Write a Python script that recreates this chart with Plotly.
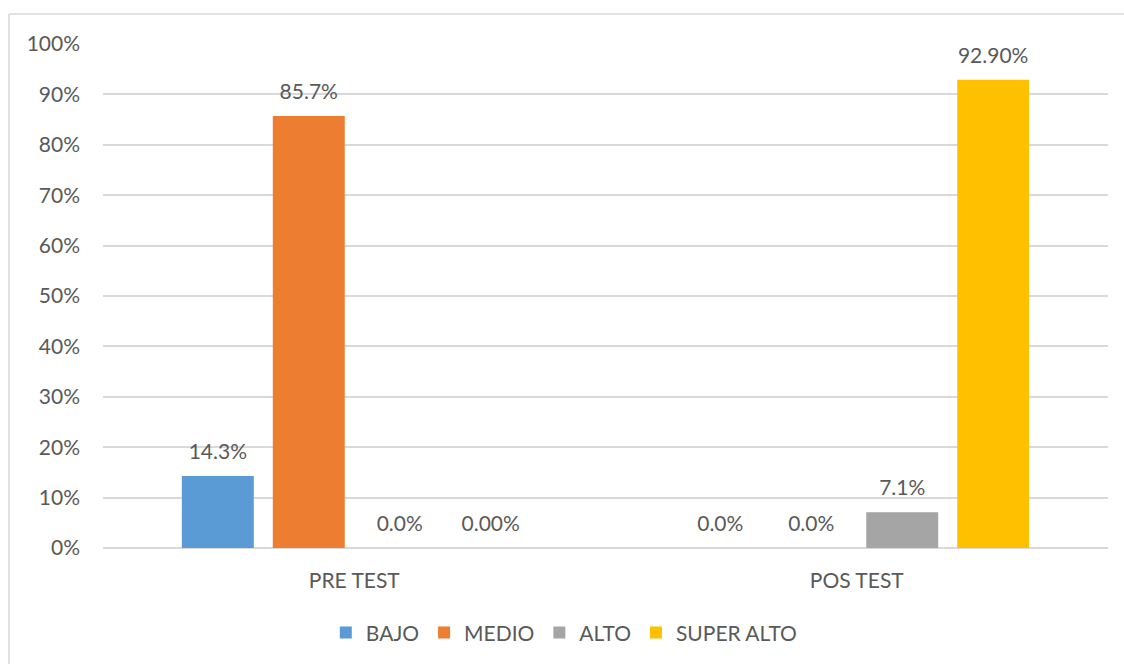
import plotly.graph_objects as go

categories = ["PRE TEST", "POS TEST"]
series_names = ["BAJO", "MEDIO", "ALTO", "SUPER ALTO"]
bajo = [14.3, 0.0]
medio = [85.7, 0.0]
alto = [0.0, 7.1]
super_alto = [0.0, 92.9]
bajo_labels = ["14.3%", "0.0%"]
medio_labels = ["85.7%", "0.0%"]
alto_labels = ["0.0%", "7.1%"]
super_alto_labels = ["0.00%", "92.90%"]
y_ticks = [0, 10, 20, 30, 40, 50, 60, 70, 80, 90, 100]
y_tick_labels = [f"{v}%" for v in y_ticks]

colors = ["#5B9BD5", "#ED7D31", "#A5A5A5", "#FFC000"]
values = [bajo, medio, alto, super_alto]
labels = [bajo_labels, medio_labels, alto_labels, super_alto_labels]

FONT = "Lato"
TXT = "#595959"
FS = 21
GAP = 0.276
BORDER = dict(color="#D9D9D9", width=1.5)

fig = go.Figure()
for i, (name, vals, col) in enumerate(zip(series_names, values, colors)):
    fig.add_trace(go.Bar(
        name=name, x=categories, y=vals, offsetgroup=str(i),
        marker=dict(color=col, line=dict(width=0)),
        hoverinfo="x+y",
    ))
for i, (name, vals, labs) in enumerate(zip(series_names, values, labels)):
    fig.add_trace(go.Scatter(
        x=categories, y=vals, offsetgroup=str(i), mode="markers+text",
        text=labs, textposition="top center",
        textfont=dict(family=FONT, size=FS, color=TXT),
        marker=dict(size=17, opacity=0),
        showlegend=False, hoverinfo="skip", cliponaxis=False,
    ))

fig.update_layout(
    width=1124, height=664,
    margin=dict(l=103, r=16, t=44, b=115),
    paper_bgcolor="white", plot_bgcolor="white",
    barmode="group", bargap=GAP, bargroupgap=0.209,
    scattermode="group", scattergap=GAP,
    font=dict(family=FONT, size=FS, color=TXT),
    showlegend=True,
    legend=dict(orientation="h", x=0.459, xanchor="center", y=-0.166, yanchor="middle",
                font=dict(family=FONT, size=FS, color=TXT),
                traceorder="normal"),
    xaxis=dict(showgrid=False, showline=False, zeroline=False,
               tickfont=dict(family=FONT, size=FS, color=TXT),
               ticklabelstandoff=18),
    yaxis=dict(range=[0, 100], tickvals=y_ticks, ticktext=y_tick_labels,
               showgrid=True, gridcolor="#D9D9D9", gridwidth=1.5,
               zeroline=True, zerolinecolor="#D9D9D9", zerolinewidth=1.5,
               showline=False,
               tickfont=dict(family=FONT, size=FS, color=TXT),
               ticklabelstandoff=22),
    shapes=[
        dict(type="line", xref="paper", yref="paper",
             x0=-0.0935, x1=-0.0935, y0=-0.25, y1=1.0594, line=BORDER, layer="below"),
        dict(type="line", xref="paper", yref="paper",
             x0=-0.0935, x1=1.05, y0=1.0594, y1=1.0594, line=BORDER, layer="below"),
    ],
)

fig.write_html("out.html", config={"displayModeBar": False},
               post_script="document.body.style.margin='0';document.body.style.overflow='hidden';")
